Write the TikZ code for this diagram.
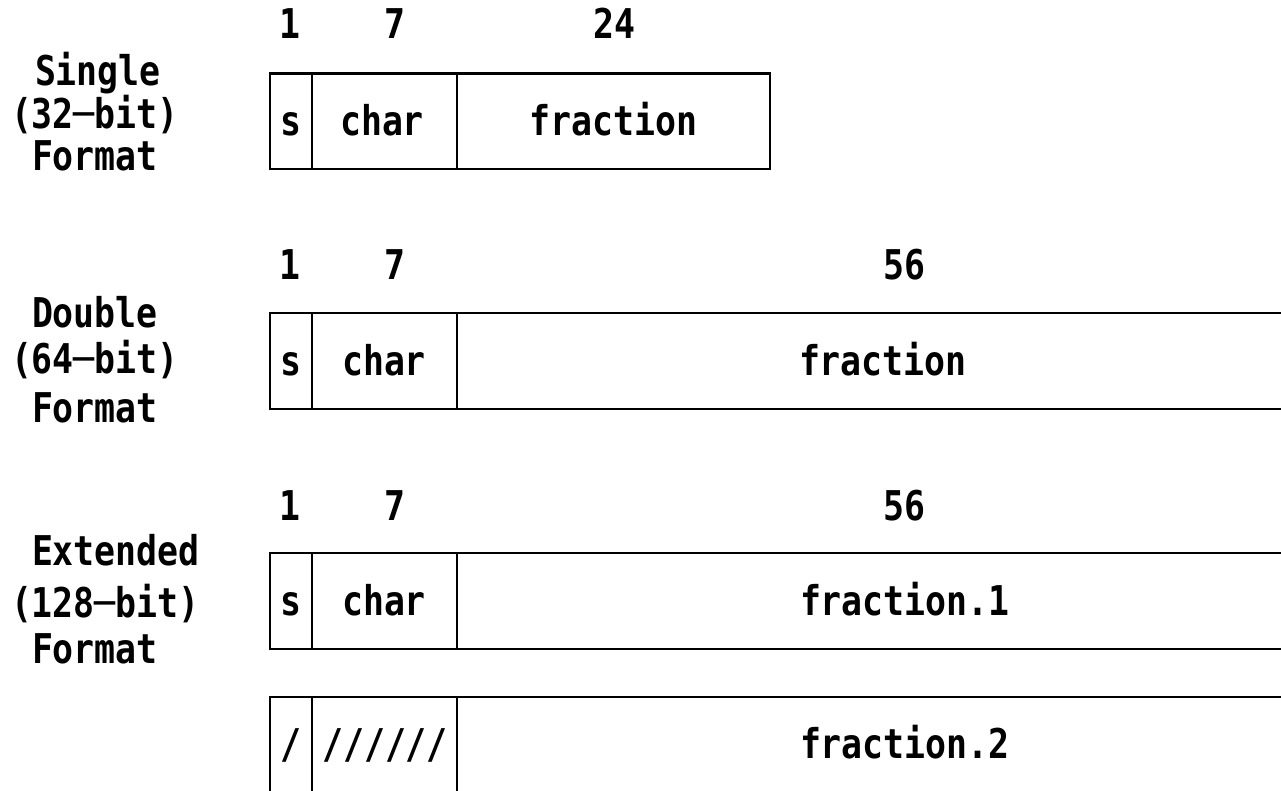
\documentclass[tikz,border=0pt]{standalone}
\usepackage{fontspec}
\setmonofont{DejaVu Sans Mono}[FakeStretch=0.85]
\begin{document}
\begin{tikzpicture}[x=1pt,y=-1pt,
  txt/.style={font=\ttfamily\bfseries\fontsize{41}{48}\selectfont,
              inner sep=0pt, outer sep=0pt, anchor=base},
  lft/.style={txt, anchor=base west},
  rule/.style={line width=2.6pt, line cap=rect, line join=miter}]
\useasboundingbox (0,0) rectangle (1281,790);
\clip (0,0) rectangle (1281,790);

% ---- Single (32-bit) format ----
\node[txt] (s1) at (290,38.5) {1};
\node[txt] (s7) at (395,38.5) {7};
\node[txt] (s24) at (614,38.5) {24};
\node[lft] (sa) at (35,85) {Single};
\node[lft] (sb) at (11,128) {(32─bit)};
\node[lft] (sc) at (32,170) {Format};
\draw[rule] (270,73.5) rectangle (770,169);
\draw[rule] (312,73.5) -- (312,169);
\draw[rule] (457,73.5) -- (457,169);
\node[txt] (ss) at (291,135.5) {s};
\node[txt] (sch) at (382,135.5) {char};
\node[txt] (sfr) at (613.5,135.5) {fraction};

% ---- Double (64-bit) format ----
\node[txt] (d1) at (290,279.5) {1};
\node[txt] (d7) at (395,279.5) {7};
\node[txt] (d56) at (904,279.5) {56};
\node[lft] (da) at (32,327) {Double};
\node[lft] (db) at (11,373) {(64─bit)};
\node[lft] (dc) at (32,422) {Format};
\draw[rule] (1300,313) -- (270,313) -- (270,409) -- (1300,409);
\draw[rule] (312,313) -- (312,409);
\draw[rule] (457,313) -- (457,409);
\node[txt] (ds) at (291,375) {s};
\node[txt] (dch) at (384,375) {char};
\node[lft] (dfr) at (799,375) {fraction};

% ---- Extended (128-bit) format ----
\node[txt] (e1) at (290,520) {1};
\node[txt] (e7) at (395,520) {7};
\node[txt] (e56) at (904,520) {56};
\node[lft] (ea) at (32,565) {Extended};
\node[lft] (eb) at (11,617) {(128─bit)};
\node[lft] (ec) at (32,663) {Format};
\draw[rule] (1300,553) -- (270,553) -- (270,649) -- (1300,649);
\draw[rule] (312,553) -- (312,649);
\draw[rule] (457,553) -- (457,649);
\node[txt] (es) at (291,615) {s};
\node[txt] (ech) at (384,615) {char};
\node[lft] (efr) at (800,615) {fraction.1};

% second doubleword of the extended format
\draw[rule] (270,800) -- (270,697) -- (1300,697);
\draw[rule] (312,697) -- (312,800);
\draw[rule] (457,697) -- (457,800);
\node[txt] (fs) at (291,758) {/};
\node[txt] (fch) at (385,758) {//////};
\node[lft] (ffr) at (800,758) {fraction.2};
\end{tikzpicture}
\end{document}
